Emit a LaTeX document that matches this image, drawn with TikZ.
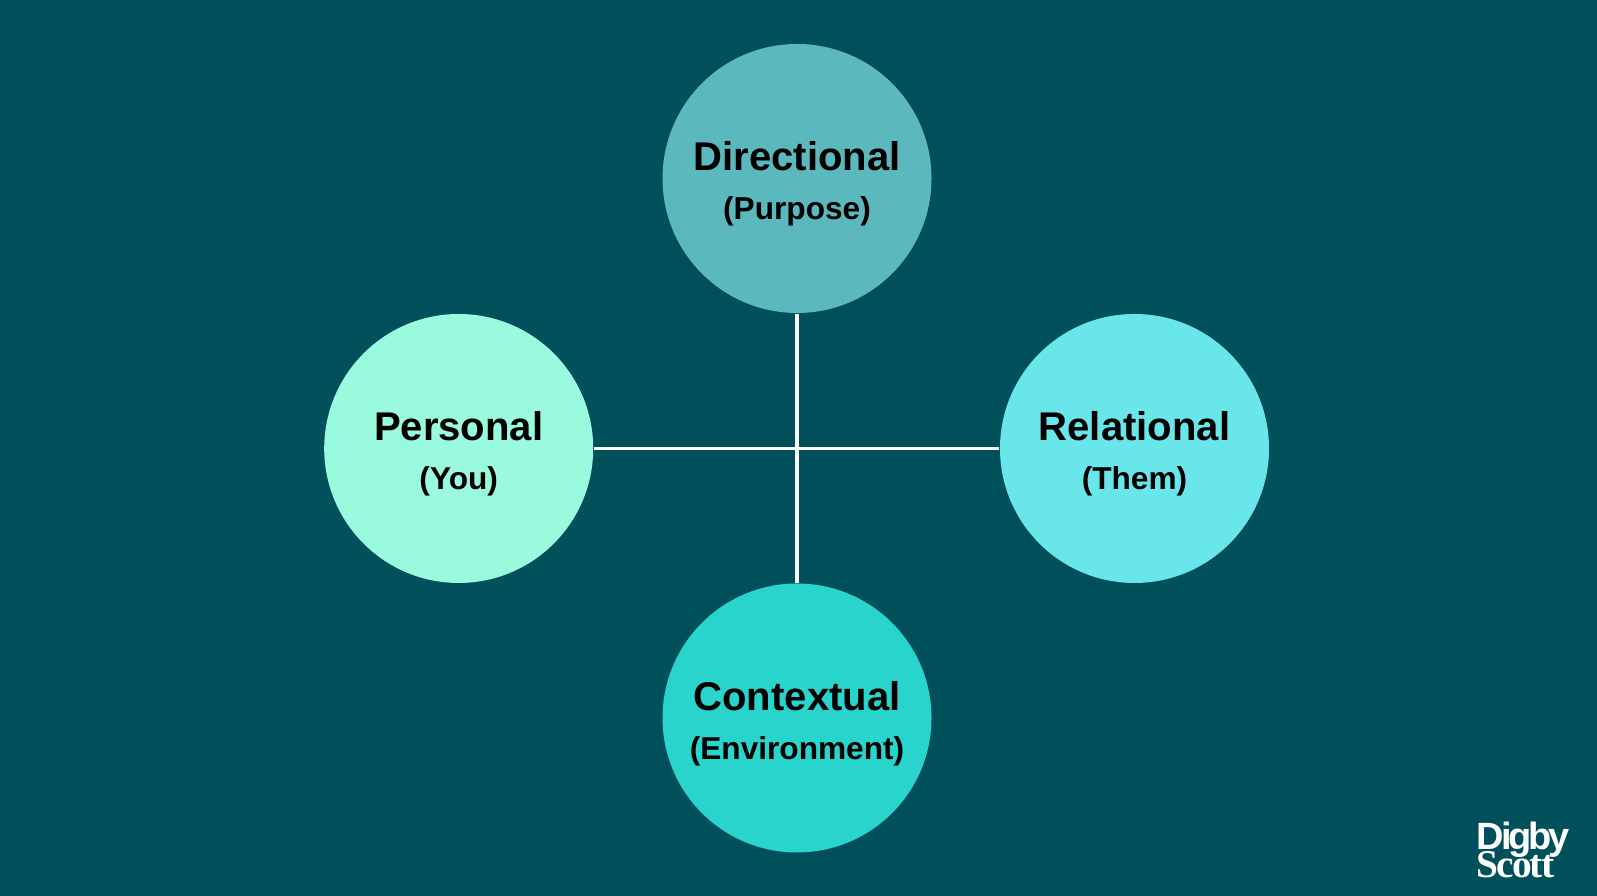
\documentclass[tikz,border=0pt]{standalone}
\usepackage{fontspec}
\setmainfont{Liberation Sans}
\newfontfamily\logoserif[LetterSpace=-5]{Liberation Serif}
\newfontfamily\logosans[LetterSpace=-8]{Liberation Sans}
\definecolor{bgteal}{HTML}{00505C}
\definecolor{dirfill}{HTML}{5BB8BC}
\definecolor{perfill}{HTML}{9AFADD}
\definecolor{relfill}{HTML}{69E6E9}
\definecolor{confill}{HTML}{28D4CB}
\newcommand{\twolines}[2]{{\fontsize{11.4}{13}\bfseries #1}\\[2pt]{\fontsize{9}{11}\bfseries #2}}
\tikzset{
    ball/.style={circle, minimum size=2.69cm, inner sep=0pt, align=center, text=black, text height=23.6pt, text depth=0pt},
    spoke/.style={white, line width=0.9pt},
    logotext/.style={white, inner sep=0pt, anchor=base west, font=\bfseries}
}
\begin{document}
\begin{tikzpicture}
            \useasboundingbox (0,0) rectangle (15.97,8.96);
            \fill[bgteal] (0,0) rectangle (15.97,8.96);

            \node[ball, fill=dirfill] (directional) at (7.97,7.175) {\twolines{Directional}{(Purpose)}};
            \node[ball, fill=perfill] (personal) at (4.587,4.475) {\twolines{Personal}{(You)}};
            \node[ball, fill=relfill] (relational) at (11.345,4.475) {\twolines{Relational}{(Them)}};
            \node[ball, fill=confill] (contextual) at (7.97,1.78) {\twolines{Contextual}{(Environment)}};

            \draw[spoke] (directional) -- (contextual);
            \draw[spoke] (personal) -- (relational);

            \node[logotext] (digby) at (14.76,0.46) {\fontsize{10.8}{12}\logosans\bfseries Digby};
            \node[logotext] (scott) at (14.76,0.185) {\fontsize{11.2}{12}\logoserif\bfseries Scott};
        \end{tikzpicture}
\end{document}
